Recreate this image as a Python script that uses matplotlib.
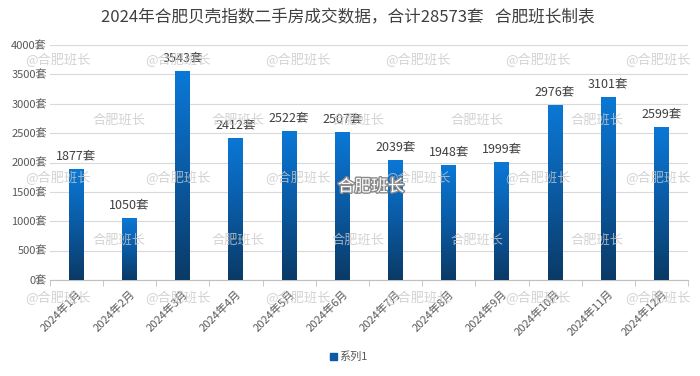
import matplotlib.pyplot as plt
import matplotlib.patheffects as pe
import numpy as np
from matplotlib.colors import LinearSegmentedColormap
from matplotlib.patches import Rectangle

plt.rcParams['font.family'] = ['Noto Sans CJK SC', 'DejaVu Sans']

months = [f"2024年{m}月" for m in range(1, 13)]
deals = [1877, 1050, 3543, 2412, 2522, 2507, 2039, 1948, 1999, 2976, 3101, 2599]
yticks = [0, 500, 1000, 1500, 2000, 2500, 3000, 3500, 4000]

TEXT = "#595959"
cmap = LinearSegmentedColormap.from_list("bar", ["#0a3a66", "#0b5aa3", "#0a78d6"])
grad = np.linspace(0, 1, 256).reshape(-1, 1)

fig = plt.figure(figsize=(7, 3.76), dpi=100)
ax = fig.add_axes([0.071, 0.255, 0.912, 0.625])

x = np.arange(len(months))
width = 0.28
for xi, v in zip(x, deals):
    ax.imshow(grad, cmap=cmap, aspect="auto", origin="lower",
              extent=(xi - width / 2, xi + width / 2, 0, v), zorder=3)
    ax.annotate(f"{v}套", (xi, v), xytext=(0, 10), textcoords="offset points",
                ha="center", va="center", fontsize=9, color="#404040", zorder=4)

ax.set_xlim(-0.5, len(months) - 0.5)
ax.set_ylim(0, 4000)
ax.set_yticks(yticks)
ax.set_yticklabels([f"{t}套" for t in yticks], fontsize=8, color=TEXT)
ax.set_xticks(x)
ax.set_xticklabels(months, rotation=45, ha="right", rotation_mode="anchor",
                   fontsize=8, color=TEXT)
ax.set_xticks(np.arange(-0.5, len(months)), minor=True)
ax.tick_params(axis="x", which="major", length=0, pad=6)
ax.tick_params(axis="x", which="minor", length=4, color="#bfbfbf")
ax.tick_params(axis="y", length=0, pad=2)
ax.grid(True, axis="y", color="#d9d9d9", lw=0.8, zorder=0)
for s in ["top", "right", "left"]:
    ax.spines[s].set_visible(False)
ax.spines["bottom"].set_color("#bfbfbf")

fig.text(0.497, 0.952, "2024年合肥贝壳指数二手房成交数据，合计28573套   合肥班长制表",
         ha="center", va="center", fontsize=12, color="#404040")

# legend
fig.add_artist(Rectangle((0.472, 0.042), 0.009, 0.018, transform=fig.transFigure,
                         color="#0b5aa3"))
fig.text(0.484, 0.051, "系列1", ha="left", va="center", fontsize=8, color=TEXT)

# watermarks (pixel positions)
for yy in [60, 178, 298]:
    for xx in [58, 178, 298, 418, 538, 658]:
        fig.text(xx / 700, 1 - yy / 376, "@合肥班长", ha="center", va="center",
                 fontsize=9.5, color="#c8c8c8", alpha=0.8, zorder=1)
for yy in [120, 240]:
    for xx in [119, 238, 358, 477, 597]:
        fig.text(xx / 700, 1 - yy / 376, "合肥班长", ha="center", va="center",
                 fontsize=9.5, color="#c8c8c8", alpha=0.8, zorder=1)
fig.text(0.53, 0.503, "合肥班长", ha="center", va="center", fontsize=12,
         color="white", zorder=10,
         path_effects=[pe.withStroke(linewidth=2, foreground="#8a8a8a")])

fig.savefig("out.png", dpi=100, facecolor="white")
